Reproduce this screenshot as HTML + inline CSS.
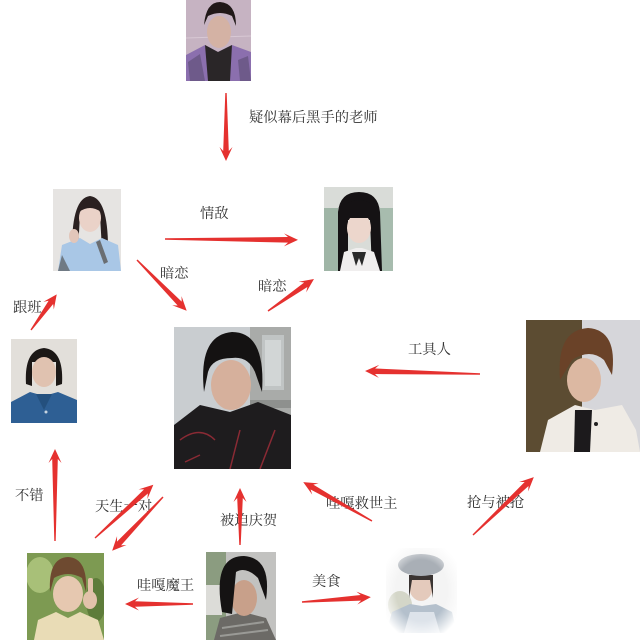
<!DOCTYPE html>
<html><head><meta charset="utf-8"><style>
html,body{margin:0;padding:0;background:#fff;}
svg{display:block;}
text{font-family:"Liberation Serif","Noto Serif CJK SC","Noto Sans CJK SC",serif;font-size:14.3px;fill:#303030;}
</style></head><body>
<svg width="640" height="640" viewBox="0 0 640 640" xmlns="http://www.w3.org/2000/svg">
<defs>
<clipPath id="c1"><rect x="186" y="0" width="65" height="81"/></clipPath>
<clipPath id="c2"><rect x="53" y="189" width="68" height="82"/></clipPath>
<clipPath id="c3"><rect x="324" y="187" width="69" height="84"/></clipPath>
<clipPath id="c4"><rect x="11" y="339" width="66" height="84"/></clipPath>
<clipPath id="c5"><rect x="174" y="327" width="117" height="142"/></clipPath>
<clipPath id="c6"><rect x="526" y="320" width="114" height="132"/></clipPath>
<clipPath id="c7"><rect x="27" y="553" width="77" height="87"/></clipPath>
<clipPath id="c8"><rect x="206" y="552" width="70" height="88"/></clipPath>
<clipPath id="c9"><rect x="386" y="548" width="71" height="85"/></clipPath>
<radialGradient id="fade" cx="0.5" cy="0.5" r="0.6"><stop offset="0.6" stop-color="#fff" stop-opacity="0"/><stop offset="1" stop-color="#fff" stop-opacity="1"/></radialGradient>
</defs>

<!-- Photo 1 top -->
<g clip-path="url(#c1)">
<rect x="186" y="0" width="65" height="81" fill="#c6b3c2"/>
<line x1="186" y1="38" x2="251" y2="36" stroke="#d8c8d4" stroke-width="1"/>
<path d="M186,55 L205,45 L218,52 L232,45 L251,52 L251,81 L186,81Z" fill="#8b6fae"/>
<path d="M205,45 L218,52 L232,45 L230,81 L208,81Z" fill="#2a2628"/>
<path d="M188,62 L200,54 L205,81 L190,81Z" fill="#6e5a8a"/>
<path d="M238,60 L248,56 L251,81 L240,81Z" fill="#6e5a8a"/>
<ellipse cx="219" cy="32" rx="12" ry="16" fill="#d4b2a4"/>
<path d="M204,25 Q206,2 220,2 Q236,3 236,26 L232,16 Q220,10 208,16Z" fill="#201818"/>
</g>

<!-- Photo 2 left girl -->
<g clip-path="url(#c2)">
<rect x="53" y="189" width="68" height="82" fill="#e6e4e2"/>
<path d="M72,248 Q72,198 90,196 Q108,198 108,248 L102,250 L100,215 L80,215 L78,250Z" fill="#2a2020"/>
<ellipse cx="90" cy="218" rx="11" ry="14" fill="#ead2c8"/>
<path d="M79,212 Q80,199 90,199 Q101,199 101,212 Q90,204 79,212Z" fill="#2a2020"/>
<path d="M58,271 L62,245 L80,238 L90,244 L102,238 L118,245 L121,271Z" fill="#a9c7e6"/>
<path d="M58,271 L62,255 L70,271Z" fill="#707a84"/>
<path d="M100,240 L108,262 L104,264 L96,242Z" fill="#6a6e72"/>
<ellipse cx="74" cy="236" rx="5" ry="7" fill="#e2c6ba"/>
</g>

<!-- Photo 3 right girl -->
<g clip-path="url(#c3)">
<rect x="324" y="187" width="69" height="84" fill="#d9dcd8"/>
<rect x="324" y="208" width="14" height="63" fill="#9fb5a6"/>
<rect x="380" y="208" width="13" height="63" fill="#a7bcae"/>
<path d="M338,271 L338,212 Q340,192 359,192 Q378,192 380,212 L382,271 L372,271 L370,220 L348,220 L348,271Z" fill="#151214"/>
<ellipse cx="359" cy="228" rx="12" ry="15" fill="#ecd6cc"/>
<path d="M346,218 L346,204 Q359,196 372,204 L372,218Z" fill="#151214"/>
<path d="M340,271 L344,252 L356,248 L362,248 L374,252 L380,271Z" fill="#f0eeee"/>
<path d="M352,252 L366,252 L362,266 L359,258 L356,266Z" fill="#2a2a2a"/>
</g>

<!-- Photo 4 small guy -->
<g clip-path="url(#c4)">
<rect x="11" y="339" width="66" height="84" fill="#e2dfda"/>
<path d="M26,384 Q24,350 44,348 Q64,350 62,384 L56,386 L56,362 L32,362 L32,386Z" fill="#1c1816"/>
<ellipse cx="44" cy="372" rx="12" ry="15" fill="#e0c2b0"/>
<path d="M11,423 L11,402 L30,392 L44,396 L58,392 L77,400 L77,423Z" fill="#2e5f94"/>
<path d="M36,394 L44,410 L52,394Z" fill="#24507e"/>
<circle cx="46" cy="412" r="1.5" fill="#c8d4e0"/>
</g>

<!-- Photo 5 center -->
<g clip-path="url(#c5)">
<rect x="174" y="327" width="117" height="142" fill="#c9cdd0"/>
<rect x="250" y="327" width="41" height="142" fill="#a9aba9"/>
<rect x="262" y="335" width="22" height="55" fill="#c0c4c4"/>
<rect x="265" y="340" width="16" height="46" fill="#d2d6d6"/>
<rect x="250" y="400" width="41" height="8" fill="#8e908e"/>
<path d="M174,469 L174,425 L200,405 L230,412 L258,402 L291,415 L291,469Z" fill="#1e1c1e"/>
<path d="M180,440 Q200,425 215,440 M230,469 L240,430 M260,469 L275,430 M185,462 L200,455" stroke="#8a2a34" stroke-width="1.5" fill="none"/>
<ellipse cx="231" cy="385" rx="20" ry="25" fill="#d6b09c"/>
<path d="M204,392 Q198,335 232,332 Q266,332 262,392 L255,372 Q248,356 232,358 Q212,358 208,372Z" fill="#141212"/>
</g>

<!-- Photo 6 right guy -->
<g clip-path="url(#c6)">
<rect x="526" y="320" width="114" height="132" fill="#d6d6da"/>
<rect x="526" y="320" width="56" height="132" fill="#5c4c32"/>
<path d="M540,452 L548,420 L575,405 L595,410 L622,405 L636,430 L640,452Z" fill="#efebe5"/>
<path d="M575,410 L592,410 L590,452 L574,452Z" fill="#1c1a1c"/>
<circle cx="596" cy="424" r="2" fill="#222"/>
<ellipse cx="584" cy="380" rx="17" ry="22" fill="#dcb8a2"/>
<path d="M560,380 Q556,330 588,328 Q618,330 612,375 L604,360 Q590,348 572,360Z" fill="#6a4228"/>
</g>

<!-- Photo 7 bottom-left -->
<g clip-path="url(#c7)">
<rect x="27" y="553" width="77" height="87" fill="#7d9a52"/>
<ellipse cx="40" cy="575" rx="14" ry="18" fill="#a8c078"/>
<ellipse cx="96" cy="600" rx="10" ry="22" fill="#5e7c3a"/>
<path d="M34,640 L38,620 L56,612 L68,618 L80,612 L98,620 L104,640Z" fill="#e9dcb6"/>
<ellipse cx="68" cy="594" rx="15" ry="18" fill="#e6c8b0"/>
<path d="M50,592 Q48,558 68,557 Q88,558 86,592 L82,578 Q68,570 54,578Z" fill="#6e4a30"/>
<rect x="88" y="578" width="5" height="18" rx="2" fill="#e2c2aa"/>
<ellipse cx="90" cy="600" rx="7" ry="9" fill="#e2c2aa"/>
</g>

<!-- Photo 8 bottom-middle -->
<g clip-path="url(#c8)">
<rect x="206" y="552" width="70" height="88" fill="#c2c2c0"/>
<rect x="206" y="552" width="20" height="88" fill="#8b9c80"/>
<rect x="206" y="585" width="16" height="30" fill="#dcdcd8"/>
<path d="M214,640 L220,618 L243,612 L266,618 L276,640Z" fill="#6c6a66"/>
<path d="M222,628 L264,622 M220,636 L268,630" stroke="#9a9a96" stroke-width="2"/>
<ellipse cx="244" cy="598" rx="13" ry="18" fill="#c8a08a"/>
<path d="M222,612 Q212,556 244,556 Q272,558 266,600 L258,578 Q246,566 236,572 L232,614Z" fill="#151313"/>
</g>

<!-- Photo 9 bottom-right -->
<g clip-path="url(#c9)">
<rect x="386" y="548" width="71" height="85" fill="#f4f4f4"/>
<ellipse cx="400" cy="605" rx="12" ry="14" fill="#d4d6c8"/>
<path d="M386,633 L392,612 L410,604 L422,606 L436,604 L452,612 L457,633Z" fill="#b4c0cc"/>
<path d="M404,633 L410,612 L434,612 L440,633Z" fill="#dde3ea"/>
<ellipse cx="421" cy="586" rx="12" ry="15" fill="#e4cabc"/>
<path d="M409,598 L409,575 L433,575 L433,598 L430,580 L412,580Z" fill="#3a3432"/>
<ellipse cx="421" cy="565" rx="23" ry="11" fill="#a9afb6"/>
<rect x="386" y="548" width="71" height="85" fill="url(#fade)"/>
</g>

<!-- Labels -->
<text x="249" y="122">疑似幕后黑手的老师</text>
<text x="200" y="218">情敌</text>
<text x="160" y="278">暗恋</text>
<text x="258" y="291">暗恋</text>
<text x="13" y="312">跟班</text>
<text x="15" y="500">不错</text>
<text x="95" y="511">天生一对</text>
<text x="220" y="525">被迫庆贺</text>
<text x="137" y="590">哇嘎魔王</text>
<text x="312" y="586">美食</text>
<text x="326" y="508">哇嘎救世主</text>
<text x="467" y="507">抢与被抢</text>
<text x="408" y="354">工具人</text>

<!-- Arrows -->
<g fill="#e5312f">
<g transform="translate(226 93) rotate(90)"><path d="M0,-0.7 L58,-2.8 L54,-6.5 L68,0 L54,6.5 L58,2.8 L0,0.7Z"/></g>
<g transform="translate(165 239) rotate(0.4)"><path d="M0,-0.7 L123,-2.8 L119,-6.5 L133,0 L119,6.5 L123,2.8 L0,0.7Z"/></g>
<g transform="translate(137 260) rotate(45.6)"><path d="M0,-0.7 L61,-2.8 L57,-6.5 L71,0 L57,6.5 L61,2.8 L0,0.7Z"/></g>
<g transform="translate(268 311) rotate(-34.8)"><path d="M0,-0.7 L46,-2.8 L42,-6.5 L56,0 L42,6.5 L46,2.8 L0,0.7Z"/></g>
<g transform="translate(31 330) rotate(-54.2)"><path d="M0,-0.7 L34,-2.8 L30,-6.5 L44,0 L30,6.5 L34,2.8 L0,0.7Z"/></g>
<g transform="translate(55 541) rotate(-90)"><path d="M0,-0.7 L82,-2.8 L78,-6.5 L92,0 L78,6.5 L82,2.8 L0,0.7Z"/></g>
<g transform="translate(95 538) rotate(-42.4)"><path d="M0,-0.7 L69,-2.8 L65,-6.5 L79,0 L65,6.5 L69,2.8 L0,0.7Z"/></g>
<g transform="translate(163 497) rotate(133.4)"><path d="M0,-0.7 L64,-2.8 L60,-6.5 L74,0 L60,6.5 L64,2.8 L0,0.7Z"/></g>
<g transform="translate(240 545) rotate(-90)"><path d="M0,-0.7 L47,-2.8 L43,-6.5 L57,0 L43,6.5 L47,2.8 L0,0.7Z"/></g>
<g transform="translate(193 604) rotate(180)"><path d="M0,-0.7 L58,-2.8 L54,-6.5 L68,0 L54,6.5 L58,2.8 L0,0.7Z"/></g>
<g transform="translate(302 602) rotate(-4.1)"><path d="M0,-0.7 L59,-2.8 L55,-6.5 L69,0 L55,6.5 L59,2.8 L0,0.7Z"/></g>
<g transform="translate(372 521) rotate(209.5)"><path d="M0,-0.7 L69,-2.8 L65,-6.5 L79,0 L65,6.5 L69,2.8 L0,0.7Z"/></g>
<g transform="translate(473 535) rotate(-43.6)"><path d="M0,-0.7 L74,-2.8 L70,-6.5 L84,0 L70,6.5 L74,2.8 L0,0.7Z"/></g>
<g transform="translate(480 374) rotate(181.5)"><path d="M0,-0.7 L105,-2.8 L101,-6.5 L115,0 L101,6.5 L105,2.8 L0,0.7Z"/></g>
</g>
</svg>
</body></html>
